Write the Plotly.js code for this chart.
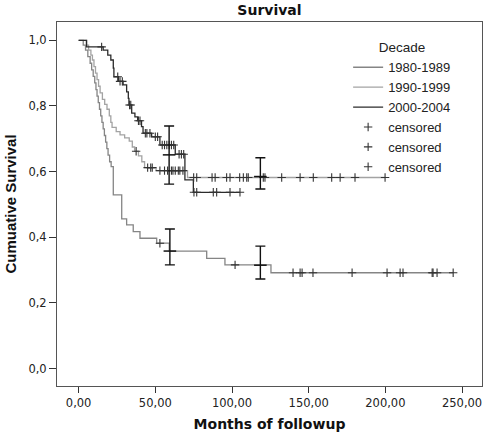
<!DOCTYPE html>
<html>
<head>
<meta charset="utf-8">
<script src="https://cdn.plot.ly/plotly-3.0.1.min.js"></script>
<style>
html,body{margin:0;padding:0;background:#fff;}
#chart{width:484px;height:436px;}
</style>
</head>
<body>
<div id="chart"></div>
<script>
// ---- Data ----
const seriesNames = ['1980-1989', '1990-1999', '2000-2004'];

// 1980-1989 : step times (months) and cumulative survival after each step
const aTimes = [0, 3, 4.5, 6, 7.5, 8.5, 9.5, 10.5, 11.3, 12, 12.8, 13.6, 14.4, 15.2, 16, 16.8, 17.6, 18.4, 19.2, 20.2, 21.2, 22.6, 28.1, 31.3, 35.6, 40, 50.9, 59.1, 83.5, 95.4, 125.4];
const aSurv  = [1, 0.985, 0.97, 0.95, 0.93, 0.91, 0.89, 0.87, 0.85, 0.83, 0.81, 0.79, 0.77, 0.75, 0.73, 0.71, 0.69, 0.67, 0.65, 0.63, 0.615, 0.529, 0.456, 0.438, 0.417, 0.397, 0.382, 0.358, 0.336, 0.316, 0.292];
const aCensored = [53, 102, 139.8, 144.4, 145.7, 152.8, 178.3, 201.1, 209.6, 211.5, 230.5, 231.1, 233.7, 244.2];

// 1990-1999
const bTimes = [0, 5, 6.5, 8, 9, 10, 11, 12, 13, 14, 15.5, 17, 18.5, 20, 21, 21.8, 24.5, 27, 30, 33, 35, 36.5, 39, 41.2, 43, 50.5, 71];
const bSurv  = [1, 0.985, 0.97, 0.955, 0.94, 0.92, 0.90, 0.88, 0.86, 0.84, 0.82, 0.805, 0.79, 0.77, 0.75, 0.735, 0.722, 0.712, 0.703, 0.693, 0.675, 0.662, 0.648, 0.63, 0.612, 0.603, 0.582];
const bCensored = [37.5, 45, 47, 48, 53, 56, 58, 60.5, 61.5, 63, 65, 66, 68, 75, 77, 87, 89, 96.5, 98.7, 105, 107.4, 109.6, 110.6, 120.4, 121.5, 132.4, 144.4, 153, 165, 170.5, 180.2, 199.8];

// 2000-2004
const cTimes = [0, 5.2, 16, 19, 21, 22.6, 23, 26, 29, 31.3, 32.4, 32.8, 34.6, 36.7, 38.5, 41, 42, 47.6, 53, 63, 69.3, 74.8];
const cSurv  = [1, 0.98, 0.97, 0.955, 0.94, 0.915, 0.889, 0.875, 0.864, 0.843, 0.823, 0.803, 0.778, 0.767, 0.755, 0.737, 0.717, 0.706, 0.681, 0.653, 0.575, 0.537];
const cCensored = [15, 25.5, 27, 28.5, 33.2, 34, 39, 40, 43.5, 44.5, 46.5, 50, 51.5, 54.5, 56, 57.5, 59, 60.5, 62, 65.5, 67, 68.5, 75.2, 77, 87.8, 90, 98.7, 105.2];

// Confidence intervals drawn at ~5 and ~10 years
const ciMonths = [59, 118.5, 59.5, 118.5];
const ciEstimate = [0.651, 0.585, 0.358, 0.315];
const ciUpper = [0.739, 0.642, 0.425, 0.373];
const ciLower = [0.562, 0.547, 0.316, 0.273];

const xTickVals = [0, 50, 100, 150, 200, 250];
const yTickVals = [0, 0.2, 0.4, 0.6, 0.8, 1.0];

// ---- Build traces ----
const curveColors = ['#858585', '#a3a3a3', '#2b2b2b'];
const censorColor = '#333333';

function survAt(times, surv, t) {
  let s = surv[0];
  for (let i = 0; i < times.length; i++) { if (times[i] <= t) s = surv[i]; }
  return s;
}
function curveTrace(times, surv, cens, name, color) {
  const end = Math.max(times[times.length - 1], ...cens);
  return {
    x: times.concat([end]), y: surv.concat([surv[surv.length - 1]]),
    type: 'scatter', mode: 'lines', name: name,
    line: {shape: 'hv', color: color, width: 1.3},
    hoverinfo: 'skip'
  };
}
function censorTrace(times, surv, cens) {
  return {
    x: cens, y: cens.map(t => survAt(times, surv, t)),
    type: 'scatter', mode: 'markers', name: 'censored',
    marker: {symbol: 'cross-thin', size: 6, color: censorColor, line: {color: censorColor, width: 1.1}},
    hoverinfo: 'skip'
  };
}

const groups = [[aTimes, aSurv, aCensored], [bTimes, bSurv, bCensored], [cTimes, cSurv, cCensored]];
const traces = [];
groups.forEach((g, i) => traces.push(curveTrace(g[0], g[1], g[2], seriesNames[i], curveColors[i])));
groups.forEach((g) => traces.push(censorTrace(g[0], g[1], g[2])));
traces.push({
  x: ciMonths, y: ciEstimate, type: 'scatter', mode: 'markers', showlegend: false,
  marker: {symbol: 'line-ew', size: 9, color: '#111', line: {color: '#111', width: 1.5}},
  error_y: {type: 'data', symmetric: false,
    array: ciUpper.map((u, i) => u - ciEstimate[i]),
    arrayminus: ciLower.map((l, i) => ciEstimate[i] - l),
    color: '#111', thickness: 1.4, width: 5},
  hoverinfo: 'skip'
});

const tickFont = {family: 'DejaVu Sans, Verdana, sans-serif', size: 11.5, color: '#222'};
const layout = {
  width: 484, height: 436,
  margin: {l: 57, r: 2, t: 22, b: 50},
  paper_bgcolor: '#fff', plot_bgcolor: '#fff',
  separators: ',.',
  showlegend: true,
  title: {text: '<b>Survival</b>', x: 0.5, xref: 'paper', y: 0.977, yanchor: 'middle',
    font: {family: 'DejaVu Sans, Verdana, sans-serif', size: 14, color: '#111'}},
  xaxis: {
    range: [-14.1, 263], tickvals: xTickVals, tickformat: '.2f',
    ticks: 'outside', ticklen: 6, tickwidth: 1, tickcolor: '#333',
    showline: true, mirror: true, linecolor: '#555', linewidth: 1,
    showgrid: false, zeroline: false, tickfont: tickFont,
    title: {text: '<b>Months of followup</b>', standoff: 10,
      font: {family: 'DejaVu Sans, Verdana, sans-serif', size: 14, color: '#111'}}
  },
  yaxis: {
    range: [-0.053, 1.0557], tickvals: yTickVals, tickformat: '.1f',
    ticks: 'outside', ticklen: 7, tickwidth: 1, tickcolor: '#333',
    showline: true, mirror: true, linecolor: '#555', linewidth: 1,
    showgrid: false, zeroline: false, tickfont: tickFont,
    title: {text: '<b>Cumuative Survival</b>', standoff: 8,
      font: {family: 'Liberation Sans, Arial, sans-serif', size: 15, color: '#111'}}
  },
  legend: {
    x: 0.685, y: 0.965, xanchor: 'left', yanchor: 'top',
    bgcolor: 'rgba(0,0,0,0)', borderwidth: 0, tracegroupgap: 0,
    font: {family: 'Liberation Sans, Arial, sans-serif', size: 13, color: '#222'},
    title: {text: 'Decade', side: 'top center', font: {family: 'Liberation Sans, Arial, sans-serif', size: 13.5, color: '#222'}}
  }
};

Plotly.newPlot('chart', traces, layout, {displayModeBar: false, staticPlot: true});
</script>
</body>
</html>
